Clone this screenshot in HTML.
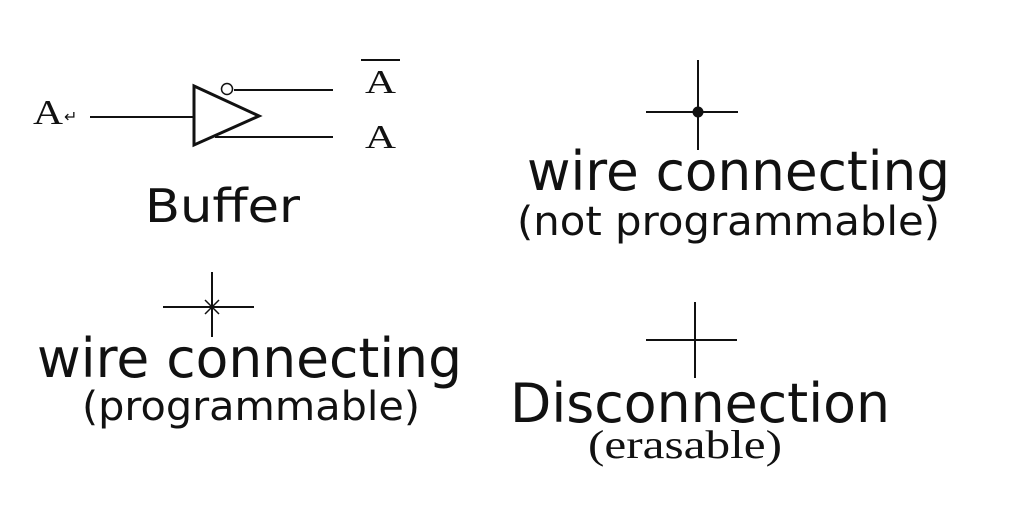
<!DOCTYPE html>
<html><head><meta charset="utf-8"><style>
html,body{margin:0;padding:0;background:#fff;}
svg{display:block}
.s{font-family:"DejaVu Sans","Liberation Sans",sans-serif;fill:#111}
.r{font-family:"Liberation Serif",serif;fill:#111}
</style></head><body>
<svg width="1016" height="522" viewBox="0 0 1016 522" xmlns="http://www.w3.org/2000/svg">
<g stroke="#111" fill="none" stroke-width="2">
<line x1="90" y1="117" x2="193" y2="117"/>
<polygon points="194,86 194,145 259,116" stroke-width="3"/>
<circle cx="227" cy="89" r="5.5" stroke-width="1.5"/>
<line x1="234" y1="90" x2="333" y2="90"/>
<line x1="215" y1="137" x2="333" y2="137"/>
<line x1="361" y1="60" x2="400" y2="60"/>
<line x1="698" y1="60" x2="698" y2="150"/>
<line x1="646" y1="112" x2="738" y2="112"/>
<line x1="212" y1="272" x2="212" y2="337"/>
<line x1="163" y1="307" x2="254" y2="307"/>
<line x1="205" y1="300" x2="219" y2="314" stroke-width="1.5"/>
<line x1="219" y1="300" x2="205" y2="314" stroke-width="1.5"/>
<line x1="695" y1="302" x2="695" y2="378"/>
<line x1="646" y1="340" x2="737" y2="340"/>
</g>
<circle cx="698" cy="112" r="5.5" fill="#111"/>
<text class="r" x="33" y="124" font-size="35" textLength="30" lengthAdjust="spacingAndGlyphs">A</text>
<text class="r" x="64" y="122" font-size="16" fill="#999">↵</text>
<text class="r" x="365" y="93" font-size="34" textLength="31" lengthAdjust="spacingAndGlyphs">A</text>
<text class="r" x="365" y="148" font-size="34" textLength="31" lengthAdjust="spacingAndGlyphs">A</text>
<text class="s" x="145" y="222" font-size="46" textLength="155" lengthAdjust="spacingAndGlyphs">Buffer</text>
<text class="s" x="527" y="190" font-size="54" textLength="423" lengthAdjust="spacingAndGlyphs">wire connecting</text>
<text class="s" x="517" y="235" font-size="40" textLength="423" lengthAdjust="spacingAndGlyphs">(not programmable)</text>
<text class="s" x="37" y="377" font-size="54" textLength="425" lengthAdjust="spacingAndGlyphs">wire connecting</text>
<text class="s" x="82" y="420" font-size="40" textLength="338" lengthAdjust="spacingAndGlyphs">(programmable)</text>
<text class="s" x="510" y="422" font-size="54" textLength="380" lengthAdjust="spacingAndGlyphs">Disconnection</text>
<text class="r" x="588" y="458" font-size="40" textLength="194" lengthAdjust="spacingAndGlyphs">(erasable)</text>
</svg>
</body></html>
